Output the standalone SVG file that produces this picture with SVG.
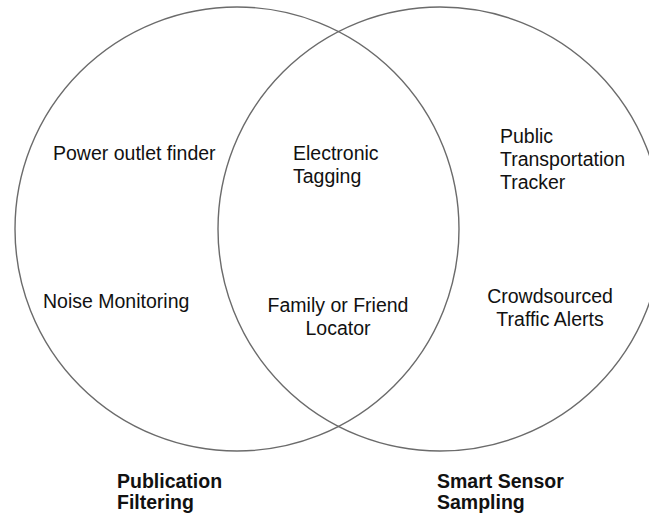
<svg xmlns="http://www.w3.org/2000/svg" width="649" height="515" viewBox="0 0 649 515">
  <style>
    .set { fill: none; stroke: #6b6b6b; stroke-width: 1.4; }
    .item { font-family: "Liberation Sans", Arial, sans-serif; font-size: 19.5px; fill: #111; }
    .title { font-family: "Liberation Sans", Arial, sans-serif; font-size: 19.5px; font-weight: bold; fill: #111; }
    .mid { text-anchor: middle; }
  </style>
  <rect width="649" height="515" fill="#ffffff"/>

  <!-- set outlines -->
  <g id="connectors">
    <circle id="set-publication" class="set" cx="237" cy="229" r="222"/>
    <circle id="set-smart-sensor" class="set" cx="440" cy="229" r="222"/>
  </g>

  <!-- items only in Publication Filtering -->
  <g id="power-outlet-finder">
    <text class="item" x="53" y="160">Power outlet finder</text>
  </g>
  <g id="noise-monitoring">
    <text class="item" x="43" y="308">Noise Monitoring</text>
  </g>

  <!-- items in both sets -->
  <g id="electronic-tagging">
    <text class="item" x="293" y="160">Electronic</text>
    <text class="item" x="293" y="183">Tagging</text>
  </g>
  <g id="family-friend-locator">
    <text class="item mid" x="338" y="312">Family or Friend</text>
    <text class="item mid" x="338" y="335">Locator</text>
  </g>

  <!-- items only in Smart Sensor Sampling -->
  <g id="public-transport-tracker">
    <text class="item" x="500" y="143">Public</text>
    <text class="item" x="500" y="166">Transportation</text>
    <text class="item" x="500" y="189">Tracker</text>
  </g>
  <g id="crowdsourced-traffic">
    <text class="item mid" x="550" y="303">Crowdsourced</text>
    <text class="item mid" x="550" y="326">Traffic Alerts</text>
  </g>

  <!-- set titles -->
  <g id="label-publication">
    <text class="title" x="117" y="488">Publication</text>
    <text class="title" x="117" y="509">Filtering</text>
  </g>
  <g id="label-smart-sensor">
    <text class="title" x="437" y="488">Smart Sensor</text>
    <text class="title" x="437" y="509">Sampling</text>
  </g>
</svg>
